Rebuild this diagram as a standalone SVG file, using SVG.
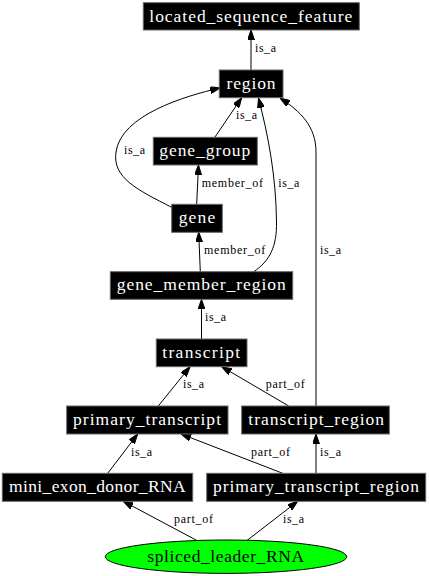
<svg xmlns="http://www.w3.org/2000/svg" width="429" height="576" viewBox="0 0 429 576">
<style>
.n rect{fill:#000;stroke:#666;stroke-width:1}
.n text{fill:#fff;font-family:"Liberation Serif","Times New Roman",serif;font-size:17.5px;text-anchor:middle}
.e path{fill:none;stroke:#000;stroke-width:1;marker-end:url(#ah)}
.e text{fill:#000;font-family:"Liberation Serif","Times New Roman",serif;font-size:12px}
</style>
<defs>
<marker id="ah" viewBox="0 0 10 7" refX="10" refY="3.5" markerWidth="10" markerHeight="7" markerUnits="userSpaceOnUse" orient="auto">
<path d="M0,0 L10,3.5 L0,7 z" fill="#000" stroke="#000" stroke-width="1"/>
</marker>
</defs>
<rect width="429" height="576" fill="#fff"/>
<g id="connectors" class="e">
<path d="M251,70 L251,30"/>
<text x="255" y="52.3" textLength="21" lengthAdjust="spacing">is_a</text>
<path d="M215,137 L241.7,97.7"/>
<text x="236" y="119.3" textLength="21" lengthAdjust="spacing">is_a</text>
<path d="M172,207.5 C138,190 112,178 116,152 C121,115 185,96 220,88"/>
<text x="124" y="154" textLength="21" lengthAdjust="spacing">is_a</text>
<path d="M196.7,204 L198.5,165"/>
<text x="201.7" y="186.7" textLength="61.3" lengthAdjust="spacing">member_of</text>
<path d="M253.3,272 C270,261 277,246 276.5,222 C276,175 268,135 258.5,98"/>
<text x="278.3" y="186.7" textLength="21" lengthAdjust="spacing">is_a</text>
<path d="M316,406 L316,152 C316,126 300,111 280,98"/>
<text x="320" y="254" textLength="21" lengthAdjust="spacing">is_a</text>
<path d="M200.3,272 L198.7,232.3"/>
<text x="204" y="254" textLength="61.3" lengthAdjust="spacing">member_of</text>
<path d="M201.5,339 L201.5,299.3"/>
<text x="205" y="321.3" textLength="21" lengthAdjust="spacing">is_a</text>
<path d="M158.3,406 L190,366.7"/>
<text x="183" y="388.3" textLength="21" lengthAdjust="spacing">is_a</text>
<path d="M288.7,406 L221.7,366.7"/>
<text x="265.7" y="388.3" textLength="39" lengthAdjust="spacing">part_of</text>
<path d="M107.7,473.3 L137.7,434"/>
<text x="131" y="456" textLength="21" lengthAdjust="spacing">is_a</text>
<path d="M282.7,473.3 L181,434"/>
<text x="251" y="456" textLength="39" lengthAdjust="spacing">part_of</text>
<path d="M316,473.3 L316,434"/>
<text x="320" y="456" textLength="21" lengthAdjust="spacing">is_a</text>
<path d="M197.3,540.7 L123.3,501.3"/>
<text x="174" y="523.3" textLength="39" lengthAdjust="spacing">part_of</text>
<path d="M246.7,540.7 L297.7,501.3"/>
<text x="283" y="523.3" textLength="21" lengthAdjust="spacing">is_a</text>
</g>
<g id="located_sequence_feature" class="n"><rect x="143.3" y="2.7" width="216" height="27.3"/><text x="250.8" y="21.5" textLength="203" lengthAdjust="spacing">located_sequence_feature</text></g>
<g id="region" class="n"><rect x="219.3" y="70" width="63.7" height="27.7"/><text x="251" y="88.5" textLength="49" lengthAdjust="spacing">region</text></g>
<g id="gene_group" class="n"><rect x="153.3" y="137.3" width="104" height="27.7"/><text x="204.8" y="155.8" textLength="91" lengthAdjust="spacing">gene_group</text></g>
<g id="gene" class="n"><rect x="171.7" y="204.3" width="50.6" height="28"/><text x="197" y="223" textLength="36.7" lengthAdjust="spacing">gene</text></g>
<g id="gene_member_region" class="n"><rect x="110.3" y="271.7" width="182.4" height="27.6"/><text x="201.2" y="290.2" textLength="169" lengthAdjust="spacing">gene_member_region</text></g>
<g id="transcript" class="n"><rect x="156.3" y="339" width="90.7" height="27.7"/><text x="201.2" y="357.5" textLength="77.7" lengthAdjust="spacing">transcript</text></g>
<g id="primary_transcript" class="n"><rect x="66.7" y="406" width="161.3" height="28"/><text x="147" y="424.7" textLength="148" lengthAdjust="spacing">primary_transcript</text></g>
<g id="transcript_region" class="n"><rect x="241.7" y="406" width="147.6" height="28"/><text x="316.2" y="424.7" textLength="135.7" lengthAdjust="spacing">transcript_region</text></g>
<g id="mini_exon_donor_RNA" class="n"><rect x="2.3" y="473.3" width="190.4" height="28"/><text x="97.3" y="492" textLength="176.7" lengthAdjust="spacing">mini_exon_donor_RNA</text></g>
<g id="primary_transcript_region" class="n"><rect x="206.7" y="473.3" width="219" height="28"/><text x="316" y="492" textLength="206" lengthAdjust="spacing">primary_transcript_region</text></g>
<g id="spliced_leader_RNA"><ellipse cx="226" cy="556.7" rx="120.7" ry="16.7" fill="#00ff00" stroke="#000" stroke-width="1"/><text x="225.7" y="561.8" textLength="156.7" lengthAdjust="spacing" font-family="Liberation Serif, Times New Roman, serif" font-size="17.5" text-anchor="middle" fill="#000">spliced_leader_RNA</text></g>
</svg>
